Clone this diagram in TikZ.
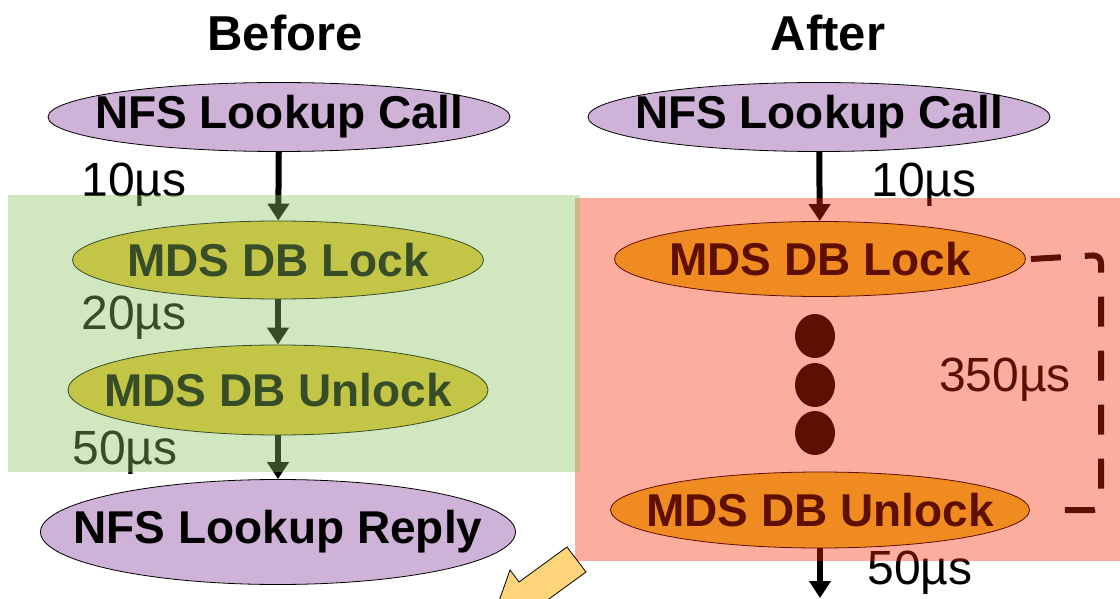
\documentclass[tikz,border=0pt]{standalone}
\usepackage{fontspec}
\setmainfont{Liberation Sans}
\usetikzlibrary{shapes.geometric,arrows.meta}
\definecolor{nfspurple}{RGB}{207,178,215}
\definecolor{mdsyellow}{RGB}{233,200,52}
\definecolor{okgreen}{RGB}{139,194,98}
\definecolor{badred}{RGB}{250,40,0}
\definecolor{hintyellow}{RGB}{255,212,122}
\tikzset{
  evfont/.style={font=\fontsize{46}{50}\selectfont\bfseries},
  event/.style={ellipse,draw,line width=0.8pt,inner sep=0pt,label={[evfont]center:#1}},
  nfs/.style={event=#1,fill=nfspurple},
  mds/.style={event=#1,fill=mdsyellow},
  lat/.style={font=\fontsize{48}{52}\selectfont},
  hop/.style={-{Triangle[width=21pt,length=17pt]},line width=6pt},
}
\begin{document}
\begin{tikzpicture}[x=1pt,y=-1pt]
\useasboundingbox (0,0) rectangle (1120,599);
\clip (0,0) rectangle (1120,599);
% before
\node[font=\fontsize{49}{52}\selectfont\bfseries] (before) at (285,33) {Before};
\node[nfs=NFS Lookup Call,minimum width=462pt,minimum height=69pt] (callL) at (279,117) {};
\node[mds=MDS DB Lock,minimum width=411pt,minimum height=78pt] (lockL) at (278,260) {};
\node[mds=MDS DB Unlock,minimum width=420pt,minimum height=90pt] (unlockL) at (278,390) {};
\node[nfs=NFS Lookup Reply,minimum width=475pt,minimum height=105pt] (replyL) at (278,532) {};
\draw[hop] (callL) -- (lockL);
\draw[hop] (lockL) -- (unlockL);
\draw[hop] (unlockL) -- (replyL);
\node[lat] (t1L) at (134,185) {10µs};
\node[lat] (t2L) at (134,318) {20µs};
\node[lat] (t3L) at (125,453) {50µs};
% after
\node[font=\fontsize{49}{52}\selectfont\bfseries] (after) at (828,33) {After};
\node[nfs=NFS Lookup Call,minimum width=462pt,minimum height=69pt] (callR) at (819,117) {};
\node[mds=MDS DB Lock,minimum width=411pt,minimum height=75pt] (lockR) at (820,259) {};
\node[mds=MDS DB Unlock,minimum width=419pt,minimum height=76pt] (unlockR) at (820,510) {};
\foreach \y/\n in {336/1,385/2,433/3}
  \node[ellipse,fill,minimum width=40pt,minimum height=44pt,inner sep=0pt] (dot\n) at (815,\y) {};
\coordinate (out) at (820,598);
\draw[hop] (callR) -- (lockR);
\draw[hop] (unlockR) -- (out);
\node[lat] (t1R) at (924,185) {10µs};
\node[lat] (t2R) at (1005,380) {350µs};
\node[lat] (t3R) at (920,573) {50µs};
\draw[line width=6pt,dash pattern=on 30pt off 24pt,rounded corners=8pt]
  ([xshift=5pt]lockR.east) -- (1101,255) -- (1101,510) -- ([xshift=20pt]unlockR.east);
% shading boxes
\fill[badred,opacity=0.38] (575,198) rectangle (1120,561);
\fill[okgreen,opacity=0.4] (8,195) rectangle (580,472);
\draw[fill=hintyellow,line width=0.8pt] (567,547) -- (519,582) -- (510,570) -- (492,621)
  -- (547,619) -- (538,607) -- (586,572) -- cycle;
\end{tikzpicture}
\end{document}
